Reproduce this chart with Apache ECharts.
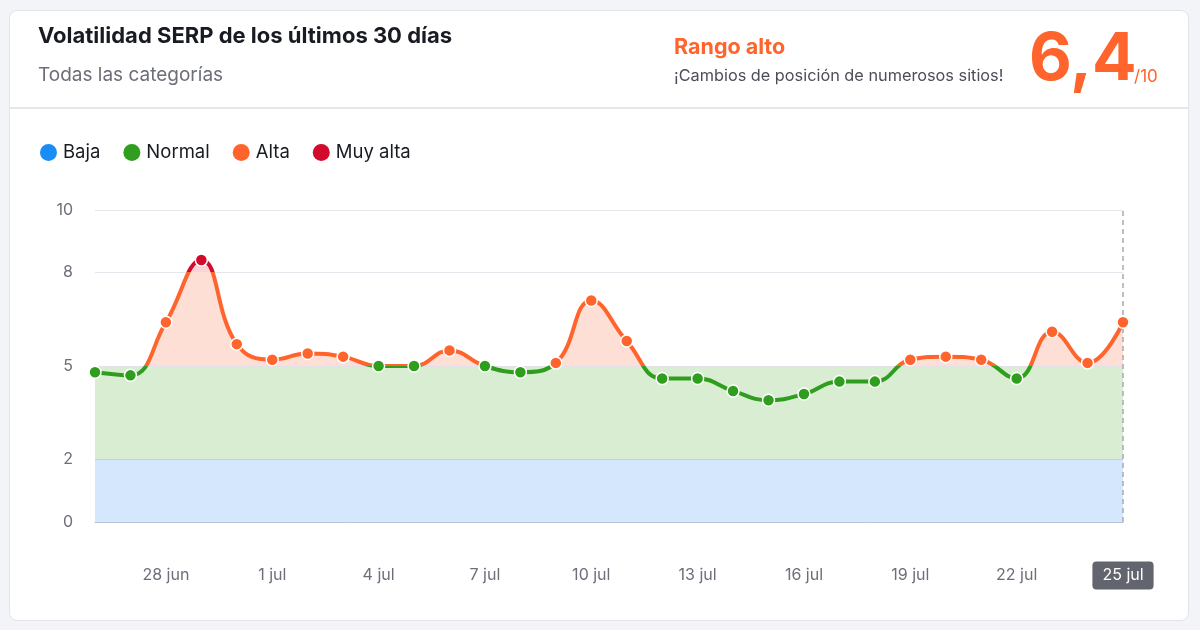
<!DOCTYPE html>
<html><head><meta charset="utf-8">
<script src="https://cdn.jsdelivr.net/npm/echarts@6/dist/echarts.min.js"></script>
<style>
html,body{margin:0;padding:0;background:#f3f4f8;width:1200px;height:630px;overflow:hidden;}
#card{position:absolute;left:9px;top:10px;width:1180px;height:611px;background:#fff;border:1px solid #e3e4e9;border-radius:8px;box-sizing:border-box;}
#divider{position:absolute;left:0;right:0;top:96px;height:2px;background:#e6e7eb;}
#chart{position:absolute;left:0;top:0;width:1200px;height:630px;}
</style></head><body>
<div id="card"><div id="divider"></div></div>
<div id="chart"></div>
<script>
const categories = ['26 jun','27 jun','28 jun','29 jun','30 jun','1 jul','2 jul','3 jul','4 jul','5 jul','6 jul','7 jul','8 jul','9 jul','10 jul','11 jul','12 jul','13 jul','14 jul','15 jul','16 jul','17 jul','18 jul','19 jul','20 jul','21 jul','22 jul','23 jul','24 jul','25 jul'];
const values = [4.8,4.7,6.4,8.4,5.7,5.2,5.4,5.3,5.0,5.0,5.5,5.0,4.8,5.1,7.1,5.8,4.6,4.6,4.2,3.9,4.1,4.5,4.5,5.2,5.3,5.2,4.6,6.1,5.1,6.4];
const yTicks = [0,2,5,8,10];
const levelNames = ['Baja','Normal','Alta','Muy alta'];
const levelColors = ['#1a8cf7','#2f9e1e','#ff642d','#d10a2e'];

const chart = echarts.init(document.getElementById('chart'), null, {renderer:'canvas'});
const last = categories.length - 1;
const score = values[last].toFixed(1).replace('.', ',');
const F = 'Inter, "Noto Sans", sans-serif';

const splitColors = [];
for (let v = 0; v <= 10; v++) splitColors.push((v === 8 || v === 10) ? '#e4e6eb' : 'rgba(0,0,0,0)');

chart.setOption({
  animation: false,
  title: {
    text: 'Volatilidad SERP de los últimos 30 días',
    subtext: 'Todas las categorías',
    left: 38, top: 22, itemGap: 13, padding: 0,
    textStyle: {fontSize: 22, fontWeight: 700, color: '#191b23', fontFamily: F, lineHeight: 28},
    subtextStyle: {fontSize: 19, color: '#6c6e79', fontFamily: F, lineHeight: 24}
  },
  graphic: [
    {type:'text', x:674, y:48, style:{text:'Rango alto', font:'bold 21.5px ' + F, fill:'#ff642d', verticalAlign:'middle'}},
    {type:'text', x:674, y:76, style:{text:'¡Cambios de posición de numerosos sitios!', font:'16.3px ' + F, fill:'#4b4e59', verticalAlign:'middle'}},
    {type:'text', x:1029, y:60, style:{text:score, font:'bold 66px ' + F, fill:'#ff642d', verticalAlign:'middle'}},
    {type:'text', x:1134, y:77, style:{text:'/10', font:'17px ' + F, fill:'#ff642d', verticalAlign:'middle'}}
  ],
  grid: {left: 95, right: 77, top: 210, bottom: 108},
  visualMap: [
    {
      type: 'piecewise', seriesIndex: 0, dimension: 1, orient: 'horizontal',
      left: 25, top: 128, itemWidth: 17, itemHeight: 17, itemSymbol: 'circle',
      itemGap: 23, textGap: 6, align: 'left', selectedMode: false, hoverLink: false,
      textStyle: {fontSize: 18.5, color: '#191b23', fontFamily: F},
      pieces: [
        {lte: 2, label: levelNames[0], color: levelColors[0]},
        {gt: 2, lte: 5, label: levelNames[1], color: levelColors[1]},
        {gt: 5, lte: 8, label: levelNames[2], color: levelColors[2]},
        {gt: 8, label: levelNames[3], color: levelColors[3]}
      ]
    },
    {
      type: 'piecewise', seriesIndex: 1, dimension: 1, show: false,
      pieces: [
        {lte: 5, color: 'rgba(255,255,255,0)'},
        {gt: 5, lte: 8, color: '#fddfd5'},
        {gt: 8, color: '#fbd3d6'}
      ]
    }
  ],
  xAxis: {
    type: 'category', data: categories, boundaryGap: false,
    axisLine: {lineStyle: {color: '#b3c6da', width: 1}},
    axisTick: {show: false},
    axisLabel: {
      interval: (i) => i % 3 === 2,
      margin: 44,
      formatter: (v, i) => i === last ? '{h|' + v + '}' : '{n|' + v + '}',
      rich: {
        n: {fontSize: 16, lineHeight: 19, color: '#6c6e79', fontFamily: F, padding: [6, 10]},
        h: {fontSize: 16, lineHeight: 19, color: '#ffffff', fontFamily: F, padding: [6, 10], backgroundColor: '#62646e', borderRadius: 4}
      }
    },
    splitLine: {show: false}
  },
  yAxis: {
    type: 'value', min: 0, max: 10, interval: 1,
    axisLine: {show: false}, axisTick: {show: false},
    axisLabel: {
      margin: 22, fontSize: 16, color: '#6c6e79', fontFamily: F,
      formatter: (v) => yTicks.includes(v) ? String(v) : ''
    },
    splitLine: {show: true, lineStyle: {color: splitColors, width: 1}}
  },
  series: [
    {
      type: 'line', data: values, smooth: 0.45, z: 10,
      symbol: 'circle', symbolSize: 12, showSymbol: true,
      lineStyle: {width: 4},
      itemStyle: {borderColor: '#ffffff', borderWidth: 1.5},
      emphasis: {disabled: true}
    },
    {
      type: 'line', data: values, smooth: 0.45, z: 2, silent: true,
      symbol: 'none', showSymbol: false,
      lineStyle: {width: 0, opacity: 0},
      areaStyle: {origin: 5, opacity: 1},
      markArea: {
        silent: true, z: 1,
        data: [
          [{yAxis: 0, itemStyle: {color: '#d4e7fc'}}, {yAxis: 2}],
          [{yAxis: 2, itemStyle: {color: '#d9edd3'}}, {yAxis: 5}]
        ]
      },
      markLine: {
        silent: true, symbol: 'none', z: 3, label: {show: false},
        data: [
          {yAxis: 5, lineStyle: {color: '#e0e2e8', type: 'solid', width: 1}},
          {yAxis: 2, lineStyle: {color: '#bcd2e2', type: 'solid', width: 1}},
          {xAxis: categories[last], lineStyle: {color: '#a8abb3', type: [5, 4], width: 1.5}}
        ]
      }
    }
  ]
});
</script>
</body></html>
